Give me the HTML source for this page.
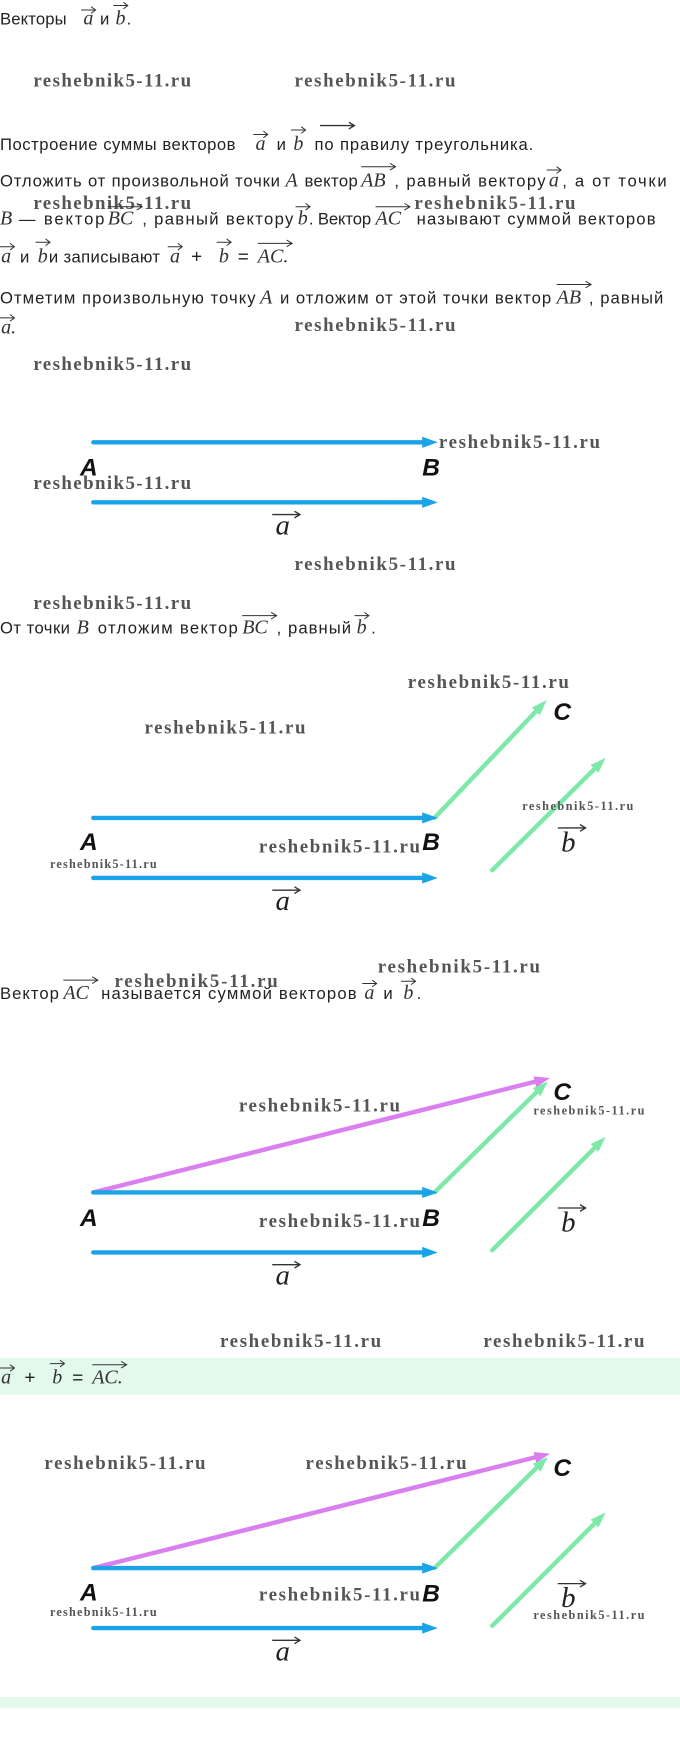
<!DOCTYPE html>
<html><head><meta charset="utf-8"><style>
html,body{margin:0;padding:0;background:#fff;}
svg{display:block;}
.t{font-family:"Liberation Sans",sans-serif;font-size:15px;fill:#222;}
.m{font-family:"Liberation Serif",serif;font-style:italic;font-size:18px;fill:#333;}
.w{font-family:"Liberation Serif",serif;font-weight:bold;font-size:17px;fill:#555;}
.ws{font-family:"Liberation Serif",serif;font-weight:bold;font-size:11px;fill:#555;}
.L{font-family:"Liberation Sans",sans-serif;font-weight:bold;font-style:italic;font-size:22px;fill:#111;}
.v{font-family:"Liberation Serif",serif;font-style:italic;font-size:26px;fill:#222;}
.ar{stroke:#333;stroke-width:0.9;fill:none;}
.bl{stroke:#1aa3e8;stroke-width:4;stroke-linecap:round;}
.gr{stroke:#7de8a8;stroke-width:4;stroke-linecap:round;}
.mg{stroke:#d97ff0;stroke-width:4;stroke-linecap:round;}
</style></head><body>
<svg width="680" height="1747" viewBox="0 0 612 1572" preserveAspectRatio="none" xmlns="http://www.w3.org/2000/svg">
<rect x="0" y="1222" width="612" height="33" fill="#e3f9ec"/>
<rect x="0" y="1527" width="612" height="10" fill="#e3f9ec"/>

<!-- line 1 -->
<text class="t" x="0" y="22" textLength="60">Векторы</text>
<text class="m" x="75" y="22">a</text><path class="ar" d="M73 9H86M82 6L86 9L82 12"/>
<text class="t" x="90" y="22">и</text>
<text class="m" x="104" y="22">b</text><path class="ar" d="M102 5H115M111 2L115 5L111 8"/>
<text class="t" x="114" y="22">.</text>

<text class="w" x="30" y="78" textLength="142">reshebnik5-11.ru</text>
<text class="w" x="265" y="78" textLength="145">reshebnik5-11.ru</text>

<!-- Построение -->
<path class="ar" d="M288 113H319M314 110L319 113L314 116" style="stroke-width:1.2"/>
<text class="t" x="0" y="135" textLength="212">Построение суммы векторов</text>
<text class="m" x="230" y="135">a</text><path class="ar" d="M228 121H241M237 118L241 121L237 124"/>
<text class="t" x="249" y="135">и</text>
<text class="m" x="264" y="135">b</text><path class="ar" d="M262 117H275M271 114L275 117L271 120"/>
<text class="t" x="283" y="135" textLength="197">по правилу треугольника.</text>

<text class="t" x="0" y="168" textLength="252">Отложить от произвольной точки</text>
<text class="m" x="257" y="168">A</text>
<text class="t" x="274" y="168" textLength="48">вектор</text>
<text class="m" x="325" y="168">AB</text><path class="ar" d="M325 150H356M351 147L356 150L351 153"/>
<text class="t" x="355" y="168" textLength="136">, равный вектору</text>
<text class="m" x="494" y="168">a</text><path class="ar" d="M492 153H505M501 150L505 153L501 156"/>
<text class="t" x="506" y="168" textLength="94">, а от точки</text>

<text class="w" x="30" y="188" textLength="142">reshebnik5-11.ru</text>
<text class="w" x="373" y="188" textLength="145">reshebnik5-11.ru</text>

<text class="m" x="0" y="202">B</text>
<text class="t" x="17" y="202" textLength="77">— вектор</text>
<text class="m" x="97" y="202">BC</text><path class="ar" d="M97 186H128M123 183L128 186L123 189"/>
<text class="t" x="128" y="202" textLength="136">, равный вектору</text>
<text class="m" x="268" y="202">b</text><path class="ar" d="M266 186H279M275 183L279 186L275 189"/>
<text class="t" x="278" y="202" textLength="56">. Вектор</text>
<text class="m" x="338" y="202">AC</text><path class="ar" d="M338 186H369M364 183L369 186L364 189"/>
<text class="t" x="375" y="202" textLength="215">называют суммой векторов</text>

<text class="m" x="1" y="236">a</text><path class="ar" d="M0 222H13M9 219L13 222L9 225"/>
<text class="t" x="18" y="236">и</text>
<text class="m" x="34" y="236">b</text><path class="ar" d="M32 218H45M41 215L45 218L41 221"/>
<text class="t" x="44" y="236" textLength="100">и записывают</text>
<text class="m" x="153" y="236">a</text><path class="ar" d="M151 222H164M160 219L164 222L160 225"/>
<text class="t" x="172" y="236" style="font-size:17px">+</text>
<text class="m" x="197" y="236">b</text><path class="ar" d="M195 218H208M204 215L208 218L204 221"/>
<text class="t" x="214" y="236" style="font-size:17px">=</text>
<text class="m" x="232" y="236">AC.</text><path class="ar" d="M232 219H263M258 216L263 219L258 222"/>

<text class="t" x="0" y="273" textLength="230">Отметим произвольную точку</text>
<text class="m" x="234" y="273">A</text>
<text class="t" x="252" y="273" textLength="244">и отложим от этой точки вектор</text>
<text class="m" x="501" y="273">AB</text><path class="ar" d="M501 256H532M527 253L532 256L527 259"/>
<text class="t" x="530" y="273" textLength="67">, равный</text>
<text class="m" x="1" y="300">a.</text><path class="ar" d="M0 286H13M9 283L13 286L9 289"/>
<text class="w" x="265" y="298" textLength="145">reshebnik5-11.ru</text>
<text class="w" x="30" y="333" textLength="142">reshebnik5-11.ru</text>

<!-- diagram 1 -->
<line class="bl" x1="84" y1="398" x2="381" y2="398"/><polygon points="380,393 394,398 380,403" fill="#1aa3e8"/>
<text class="L" x="72" y="428" textLength="14">A</text>
<text class="L" x="380" y="428" textLength="14">B</text>
<text class="w" x="395" y="403" textLength="145">reshebnik5-11.ru</text>
<text class="w" x="30" y="440" textLength="142">reshebnik5-11.ru</text>
<line class="bl" x1="84" y1="452" x2="381" y2="452"/><polygon points="380,447 394,452 380,457" fill="#1aa3e8"/>
<text class="v" x="248" y="481">a</text><path class="ar" d="M245 463H270M265 460L270 463L265 466" style="stroke-width:1.2"/>

<text class="w" x="265" y="513" textLength="145">reshebnik5-11.ru</text>
<text class="w" x="30" y="548" textLength="142">reshebnik5-11.ru</text>

<text class="t" x="0" y="570" textLength="63">От точки</text>
<text class="m" x="69" y="570">B</text>
<text class="t" x="88" y="570" textLength="126">отложим вектор</text>
<text class="m" x="218" y="570">BC</text><path class="ar" d="M218 554H249M244 551L249 554L244 557"/>
<text class="t" x="249" y="570" textLength="67">, равный</text>
<text class="m" x="321" y="570">b</text><path class="ar" d="M319 554H332M328 551L332 554L328 557"/>
<text class="t" x="334" y="570">.</text>

<!-- diagram 2 -->
<text class="w" x="367" y="619" textLength="145">reshebnik5-11.ru</text>
<text class="L" x="498" y="648" textLength="15">C</text>
<text class="w" x="130" y="660" textLength="145">reshebnik5-11.ru</text>
<line class="gr" x1="391" y1="736" x2="482.3" y2="640.1"/><polygon points="485.9,643.6 492,630 478.7,636.6" fill="#7de8a8"/>
<line class="gr" x1="443" y1="783" x2="535" y2="691.9"/><polygon points="538.5,695.5 545,682 531.5,688.3" fill="#7de8a8"/>
<line class="bl" x1="84" y1="736" x2="381" y2="736"/><polygon points="380,731 394,736 380,741" fill="#1aa3e8"/>
<text class="ws" x="470" y="729" textLength="100">reshebnik5-11.ru</text>
<text class="L" x="72" y="765" textLength="14">A</text>
<text class="L" x="380" y="765" textLength="14">B</text>
<text class="w" x="233" y="767" textLength="145">reshebnik5-11.ru</text>
<text class="ws" x="45" y="781" textLength="96">reshebnik5-11.ru</text>
<text class="v" x="505" y="766">b</text><path class="ar" d="M502 745H527M522 742L527 745L522 748" style="stroke-width:1.2"/>
<line class="bl" x1="84" y1="790" x2="381" y2="790"/><polygon points="380,785 394,790 380,795" fill="#1aa3e8"/>
<text class="v" x="248" y="819">a</text><path class="ar" d="M245 801H270M265 798L270 801L265 804" style="stroke-width:1.2"/>

<text class="w" x="340" y="875" textLength="146">reshebnik5-11.ru</text>
<text class="w" x="103" y="888" textLength="147">reshebnik5-11.ru</text>
<text class="t" x="0" y="899" textLength="53">Вектор</text>
<text class="m" x="57" y="899">AC</text><path class="ar" d="M57 882H88M83 879L88 882L83 885"/>
<text class="t" x="91" y="899" textLength="230">называется суммой векторов</text>
<text class="m" x="328" y="899">a</text><path class="ar" d="M326 885H339M335 882L339 885L335 888"/>
<text class="t" x="345" y="899">и</text>
<text class="m" x="363" y="899">b</text><path class="ar" d="M361 883H374M370 880L374 883L370 886"/>
<text class="t" x="375" y="899">.</text>

<!-- diagram 3 -->
<text class="L" x="498" y="990" textLength="15">C</text>
<line class="mg" x1="84" y1="1073" x2="481.4" y2="973.4"/><polygon points="482.6,978.3 495,970 480.2,968.5" fill="#d97ff0"/>
<text class="w" x="215" y="1000" textLength="145">reshebnik5-11.ru</text>
<text class="ws" x="480" y="1003" textLength="100">reshebnik5-11.ru</text>
<line class="gr" x1="391" y1="1073" x2="483" y2="982.7"/><polygon points="486.5,986.3 493,973 479.5,979.1" fill="#7de8a8"/>
<line class="gr" x1="443" y1="1125" x2="535.1" y2="1032.9"/><polygon points="538.6,1036.4 545,1023 531.6,1029.4" fill="#7de8a8"/>
<line class="bl" x1="84" y1="1073" x2="381" y2="1073"/><polygon points="380,1068 394,1073 380,1078" fill="#1aa3e8"/>
<text class="L" x="72" y="1103" textLength="14">A</text>
<text class="L" x="380" y="1103" textLength="14">B</text>
<text class="w" x="233" y="1104" textLength="145">reshebnik5-11.ru</text>
<text class="v" x="505" y="1108">b</text><path class="ar" d="M502 1087H527M522 1084L527 1087L522 1090" style="stroke-width:1.2"/>
<line class="bl" x1="84" y1="1127" x2="381" y2="1127"/><polygon points="380,1122 394,1127 380,1132" fill="#1aa3e8"/>
<text class="v" x="248" y="1156">a</text><path class="ar" d="M245 1138H270M265 1135L270 1138L265 1141" style="stroke-width:1.2"/>

<text class="w" x="198" y="1212" textLength="145">reshebnik5-11.ru</text>
<text class="w" x="435" y="1212" textLength="145">reshebnik5-11.ru</text>
<text class="m" x="1" y="1245">a</text><path class="ar" d="M0 1231H13M9 1228L13 1231L9 1234"/>
<text class="t" x="22" y="1245" style="font-size:17px">+</text>
<text class="m" x="47" y="1245">b</text><path class="ar" d="M45 1227H58M54 1224L58 1227L54 1230"/>
<text class="t" x="65" y="1245" style="font-size:17px">=</text>
<text class="m" x="83" y="1245">AC.</text><path class="ar" d="M83 1228H114M109 1225L114 1228L109 1231"/>

<!-- diagram 4 -->
<text class="w" x="40" y="1322" textLength="145">reshebnik5-11.ru</text>
<text class="w" x="275" y="1322" textLength="145">reshebnik5-11.ru</text>
<text class="L" x="498" y="1328" textLength="15">C</text>
<line class="mg" x1="84" y1="1411" x2="481.4" y2="1311.4"/><polygon points="482.6,1316.3 495,1308 480.2,1306.5" fill="#d97ff0"/>
<line class="gr" x1="391" y1="1411" x2="483" y2="1320.7"/><polygon points="486.5,1324.3 493,1311 479.5,1317.1" fill="#7de8a8"/>
<line class="gr" x1="443" y1="1463" x2="535.1" y2="1370.9"/><polygon points="538.6,1374.4 545,1361 531.6,1367.4" fill="#7de8a8"/>
<line class="bl" x1="84" y1="1411" x2="381" y2="1411"/><polygon points="380,1406 394,1411 380,1416" fill="#1aa3e8"/>
<text class="L" x="72" y="1440" textLength="14">A</text>
<text class="L" x="380" y="1441" textLength="14">B</text>
<text class="w" x="233" y="1440" textLength="145">reshebnik5-11.ru</text>
<text class="ws" x="45" y="1454" textLength="96">reshebnik5-11.ru</text>
<text class="v" x="505" y="1446">b</text><path class="ar" d="M502 1425H527M522 1422L527 1425L522 1428" style="stroke-width:1.2"/>
<text class="ws" x="480" y="1457" textLength="100">reshebnik5-11.ru</text>
<line class="bl" x1="84" y1="1465" x2="381" y2="1465"/><polygon points="380,1460 394,1465 380,1470" fill="#1aa3e8"/>
<text class="v" x="248" y="1494">a</text><path class="ar" d="M245 1476H270M265 1473L270 1476L265 1479" style="stroke-width:1.2"/>
</svg>
</body></html>
